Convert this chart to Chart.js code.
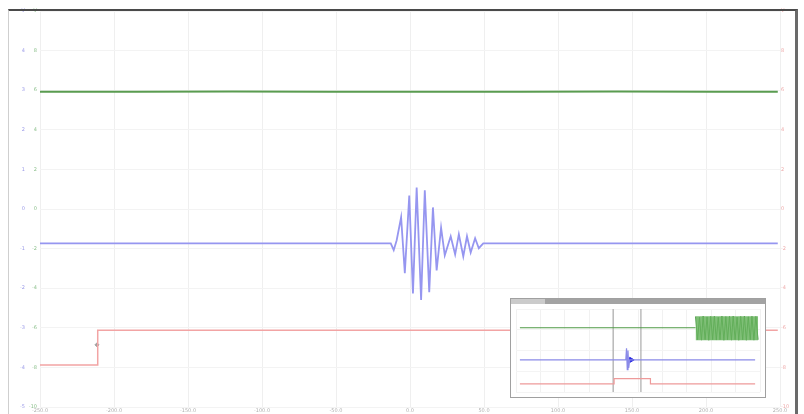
<!DOCTYPE html>
<html>
<head>
<meta charset="utf-8">
<script src="https://cdn.jsdelivr.net/npm/chart.js@4.4.0/dist/chart.umd.min.js"></script>
<style>
body{margin:0;background:#fff;}
#wrap{position:relative;width:804px;height:414px;overflow:hidden;}
#main{position:absolute;left:0;top:0;}
#frame{position:absolute;left:8px;top:9px;width:786px;height:403px;border-top:2px solid #4a4a4a;border-right:3px solid #6a6a6a;border-left:1px solid #cfcfcf;pointer-events:none;}
#inset{position:absolute;left:510px;top:298px;width:254px;height:98px;border:1px solid #a0a0a0;background:#fff;}
#insetHead{height:5px;background:#a3a3a3;}
#insetHead span{display:block;width:34px;height:5px;background:#cbcbcb;}
#insetBody{position:relative;width:254px;height:93px;}
</style>
</head>
<body>
<div id="wrap">
  <canvas id="main" width="804" height="414"></canvas>
  <div id="frame"></div>
  <div id="inset">
    <div id="insetHead"><span></span></div>
    <div id="insetBody"><canvas id="insetCanvas" width="254" height="93"></canvas></div>
  </div>
</div>
<script>
// main window, x and y in screen divisions
var xTicks = [0, 1, 2, 3, 4, 5, 6, 7, 8, 9, 10];
var xLabels = ["-250.0", "-200.0", "-150.0", "-100.0", "-50.0", "0.0", "50.0", "100.0", "150.0", "200.0", "250.0"];
var blueTicks = ["-5", "-4", "-3", "-2", "-1", "0", "1", "2", "3", "4", "V"];
var greenTicks = ["-10", "-8", "-6", "-4", "-2", "0", "2", "4", "6", "8", "V"];
var redTicks = ["-10", "-8", "-6", "-4", "-2", "0", "2", "4", "6", "8", "V"];

var greenX = [0, 1.3, 2.6, 3.9, 5.2, 6.5, 7.8, 9.1, 9.97];
var greenY = [7.96, 7.96, 7.97, 7.96, 7.96, 7.96, 7.97, 7.96, 7.96];

var blueX = [0, 4.66, 4.74, 4.78, 4.82, 4.88, 4.93, 4.99, 5.04, 5.09, 5.15, 5.20, 5.26, 5.31, 5.36, 5.42, 5.47, 5.50, 5.55, 5.61, 5.66, 5.72, 5.77, 5.82, 5.88, 5.93, 5.99, 9.97];
var blueY = [4.13, 4.13, 4.13, 3.96, 4.21, 4.79, 3.38, 5.34, 2.87, 5.54, 2.70, 5.47, 2.90, 5.04, 3.45, 4.53, 3.83, 4.01, 4.31, 3.85, 4.36, 3.80, 4.31, 3.90, 4.26, 4.01, 4.13, 4.13];

var redX = [0, 0.78, 0.78, 9.97];
var redY = [1.06, 1.06, 1.94, 1.94];

var trigX = [0.77];
var trigY = [1.57];

// overview inset, x 0..100, y 0..10
var inGreenX = [1.6, 73.6];
var inGreenY = [7.74, 7.74];
var inBlockX = [73.6, 99.2];
var inBlockY = [9.14, 9.14];
var inBurstX = [73.6, 74.4, 75.2, 76.0, 76.7, 77.5, 78.3, 79.0, 79.8, 80.6, 81.3, 82.1, 82.9, 83.6, 84.4, 85.2, 86.0, 86.7, 87.5, 88.3, 89.0, 89.8, 90.6, 91.3, 92.1, 92.9, 93.6, 94.4, 95.2, 96.0, 96.7, 97.5, 98.3, 99.2];
var inBurstY = [9.1, 6.3, 9.0, 6.25, 9.14, 6.3, 9.05, 6.24, 9.1, 6.3, 9.12, 6.26, 9.0, 6.3, 9.14, 6.24, 9.08, 6.3, 9.1, 6.25, 9.14, 6.3, 9.02, 6.24, 9.1, 6.28, 9.14, 6.24, 9.06, 6.3, 9.12, 6.25, 9.1, 6.3];
var inBlueX = [1.6, 45.0, 45.3, 45.6, 45.9, 46.2, 46.6, 98.0];
var inBlueY = [3.87, 3.87, 5.27, 2.69, 5.0, 2.9, 3.87, 3.87];
var inRedX = [1.6, 40.2, 40.2, 55.1, 55.1, 98.0];
var inRedY = [0.97, 0.97, 1.61, 1.61, 0.97, 0.97];
var cursorAX = [39.8, 39.8];
var cursorBX = [51.2, 51.2];
var cursorY = [0, 10];
var arrowX = [47.2];
var arrowY = [3.87];

function pts(xs, ys) {
    return xs.map(function (x, i) { return { x: x, y: ys[i] }; });
}

function yAxis(pos, labels, color, width, showGrid, weight) {
    return {
        type: "linear",
        position: pos,
        weight: weight,
        min: 0,
        max: 10,
        grid: { display: showGrid, color: "#f3f3f3", drawTicks: false },
        border: { display: false },
        ticks: {
            stepSize: 1,
            padding: pos === "right" ? 1 : 3,
            color: color,
            font: { size: 5, family: "DejaVu Sans" },
            callback: function (v) { return labels[v]; }
        },
        afterFit: function (s) { s.width = width; }
    };
}

new Chart(document.getElementById("main"), {
    type: "line",
    data: {
        datasets: [
            { data: pts(greenX, greenY), borderColor: "#5a9c50", borderWidth: 2, pointRadius: 0, tension: 0, yAxisID: "yB" },
            { data: pts(blueX, blueY), borderColor: "#9696f0", borderWidth: 1.8, pointRadius: 0, tension: 0, yAxisID: "yB" },
            { data: pts(redX, redY), borderColor: "#f2a4a4", borderWidth: 1.5, pointRadius: 0, tension: 0, yAxisID: "yB" },
            { data: pts(trigX, trigY), showLine: false, pointStyle: "rectRot", pointRadius: 2, backgroundColor: "#a0a0a0", borderColor: "#a0a0a0", yAxisID: "yB" }
        ]
    },
    options: {
        responsive: false,
        animation: false,
        layout: { padding: { left: 9, right: 7, top: 11, bottom: 0 } },
        plugins: { legend: { display: false }, tooltip: { enabled: false } },
        scales: {
            x: {
                type: "linear",
                min: 0,
                max: 10,
                grid: { color: "#efefef", drawTicks: false },
                border: { display: false },
                afterBuildTicks: function (axis) {
                    axis.ticks = xTicks.map(function (v) { return { value: v }; });
                },
                ticks: {
                    padding: 1,
                    color: "#b0b0b0",
                    font: { size: 5, family: "DejaVu Sans" },
                    callback: function (v) { return xLabels[v]; }
                },
                afterFit: function (s) { s.height = 7; }
            },
            yB: yAxis("left", blueTicks, "#9a9ae8", 19, true, 1),
            yG: yAxis("left", greenTicks, "#8cc08c", 12, false, 0),
            yR: yAxis("right", redTicks, "#eeaaaa", 17, false, 0)
        }
    }
});

new Chart(document.getElementById("insetCanvas"), {
    type: "line",
    data: {
        datasets: [
            { data: pts(inGreenX, inGreenY), borderColor: "#4f9a46", borderWidth: 1.2, pointRadius: 0 },
            { data: pts(inBlockX, inBlockY), borderColor: "rgba(0,0,0,0)", borderWidth: 0, pointRadius: 0, fill: { value: 6.24 }, backgroundColor: "rgba(105,180,95,0.85)" },
            { data: pts(inBurstX, inBurstY), borderColor: "#3f8f3a", borderWidth: 1, pointRadius: 0 },
            { data: pts(inBlueX, inBlueY), borderColor: "#8a8ae8", borderWidth: 1.2, pointRadius: 0 },
            { data: pts(inRedX, inRedY), borderColor: "#ee9a9a", borderWidth: 1.2, pointRadius: 0 },
            { data: pts(cursorAX, cursorY), borderColor: "#9a9a9a", borderWidth: 1, pointRadius: 0 },
            { data: pts(cursorBX, cursorY), borderColor: "#9a9a9a", borderWidth: 1, pointRadius: 0 },
            { data: pts(arrowX, arrowY), showLine: false, pointStyle: "triangle", rotation: 90, pointRadius: 3, backgroundColor: "#2a2ae0", borderColor: "#2a2ae0" }
        ]
    },
    options: {
        responsive: false,
        animation: false,
        layout: { padding: 0 },
        plugins: { legend: { display: false }, tooltip: { enabled: false } },
        scales: {
            x: { type: "linear", min: 0, max: 100, grid: { color: "#f1f1f1", drawTicks: false }, border: { display: false }, ticks: { display: false, stepSize: 10 } },
            y: { type: "linear", min: 0, max: 10, grid: { color: "#f4f4f4", drawTicks: false }, border: { display: false }, ticks: { display: false, stepSize: 2.5 } }
        }
    }
});
</script>
</body>
</html>
